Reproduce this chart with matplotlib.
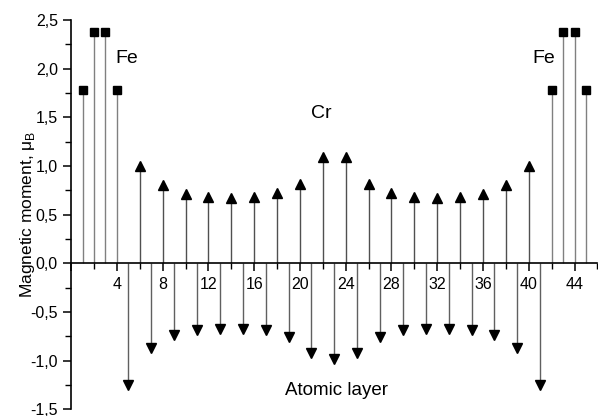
import numpy as np
import matplotlib.pyplot as plt
from matplotlib.ticker import MultipleLocator, FuncFormatter

plt.rcParams['font.family'] = ['Liberation Sans', 'DejaVu Sans']

# Fe layers (squares)
fe_x = [1, 2, 3, 4, 42, 43, 44, 45]
fe_m = [1.78, 2.38, 2.38, 1.78, 1.78, 2.38, 2.38, 1.78]

# Cr layers, moments up (even layers)
cr_up_x = [6, 8, 10, 12, 14, 16, 18, 20, 22, 24, 26, 28, 30, 32, 34, 36, 38, 40]
cr_up_m = [1.00, 0.80, 0.71, 0.68, 0.67, 0.68, 0.72, 0.82, 1.09,
           1.09, 0.82, 0.72, 0.68, 0.67, 0.68, 0.71, 0.80, 1.00]

# Cr layers, moments down (odd layers)
cr_dn_x = [5, 7, 9, 11, 13, 15, 17, 19, 21, 23, 25, 27, 29, 31, 33, 35, 37, 39, 41]
cr_dn_m = [-1.25, -0.87, -0.74, -0.68, -0.67, -0.67, -0.69, -0.76, -0.92, -0.98,
           -0.92, -0.76, -0.69, -0.67, -0.67, -0.68, -0.74, -0.87, -1.25]

fig = plt.figure(figsize=(5.98, 4.16), dpi=100)
ax = fig.add_axes([0.119, 0.016, 0.88, 0.936])

stem_col = '#808080'
ax.vlines(fe_x, 0, fe_m, color=stem_col, lw=1.0)
ax.vlines(cr_up_x, 0, cr_up_m, color='#505050', lw=1.0)
ax.vlines(cr_dn_x, 0, cr_dn_m, color='#606060', lw=1.0)
ax.plot(fe_x, fe_m, 's', color='black', ms=5.5, ls='none')
ax.plot(cr_up_x, cr_up_m, '^', color='black', ms=6.5, ls='none')
ax.plot(cr_dn_x, cr_dn_m, 'v', color='black', ms=6.5, ls='none')

ax.set_xlim(0, 46)
ax.set_ylim(-1.5, 2.5)

ax.spines['top'].set_visible(False)
ax.spines['right'].set_visible(False)
ax.spines['bottom'].set_position(('data', 0))
ax.spines['left'].set_linewidth(1.2)
ax.spines['bottom'].set_linewidth(1.2)

ax.xaxis.set_major_locator(MultipleLocator(4))
ax.xaxis.set_minor_locator(MultipleLocator(2))
ax.yaxis.set_major_locator(MultipleLocator(0.5))
ax.yaxis.set_minor_locator(MultipleLocator(0.25))
ax.xaxis.set_major_formatter(FuncFormatter(lambda v, p: '' if v == 0 else f'{v:.0f}'))
ax.yaxis.set_major_formatter(FuncFormatter(lambda v, p: f'{v:.1f}'.replace('.', ',')))
ax.tick_params(which='major', direction='out', length=6, width=1.1, labelsize=11.5)
ax.tick_params(which='minor', direction='out', length=4, width=1.0)
ax.tick_params(axis='x', which='major', pad=4)

ax.set_ylabel('Magnetic moment, \u03bc$_\\mathregular{B}$', fontsize=12.5)
ax.yaxis.set_label_coords(-0.064, 0.5)

ax.text(3.85, 2.1, 'Fe', fontsize=14, ha='left', va='center')
ax.text(40.35, 2.1, 'Fe', fontsize=14, ha='left', va='center')
ax.text(21.9, 1.54, 'Cr', fontsize=14, ha='center', va='center')
ax.text(23.2, -1.31, 'Atomic layer', fontsize=13.5, ha='center', va='center')

fig.savefig('out.png', dpi=100)
